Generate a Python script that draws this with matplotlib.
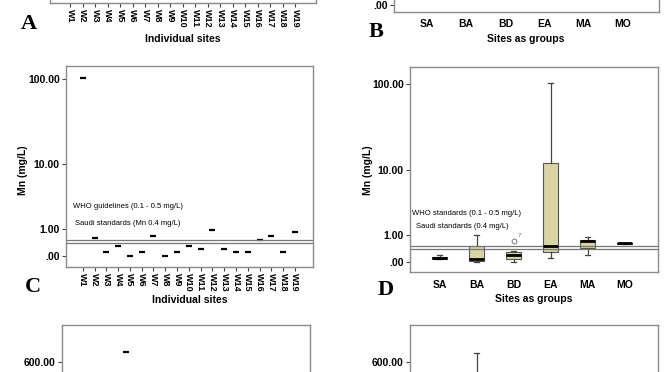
import numpy as np
import matplotlib
matplotlib.use("Agg")
import matplotlib.pyplot as plt

# ---------------- data ----------------
sites = ["W%d" % i for i in range(1, 20)]
groups = ["SA", "BA", "BD", "EA", "MA", "MO"]

# Panel C: Mn (mg/L) per individual site
mn_sites = [103, 0.61, 0.10, 0.31, 0.00, 0.10, 0.70, 0.00, 0.10, 0.31,
            0.20, 0.99, 0.20, 0.10, 0.10, 0.51, 0.70, 0.10, 0.89]

# Panel D: Mn (mg/L) box statistics per group
grp_whislo = [0.07, 0.00, 0.00, 0.10, 0.20, 0.61]
grp_q1     = [0.08, 0.03, 0.09, 0.28, 0.43, 0.61]
grp_med    = [0.11, 0.09, 0.20, 0.52, 0.71, 0.63]
grp_q3     = [0.13, 0.50, 0.31, 12.1, 0.78, 0.65]
grp_whishi = [0.19, 1.00, 0.33, 103, 0.91, 0.65]
bd_outlier = [0.71]
bd_outlier_label = "7"

who_upper = 0.5
saudi_mn = 0.4

# Panel E / F (only the top of these panels is visible)
e_sites = ["W5"]
e_values = [626]
f_whishi_ba = 624
f_q3_ba = 150
f_med_ba = 40
f_q1_ba = 10
f_whislo_ba = 0
ef_yticks = [600]

yticks_log = [0, 1, 10, 100]
yticklabels_log = [".00", "1.00", "10.00", "100.00"]

# ---------------- layout helpers ----------------
W, H = 672, 372
fig = plt.figure(figsize=(W / 100, H / 100), dpi=100)
fig.patch.set_facecolor("white")

SANS = "Liberation Sans"
SERIF = "Liberation Serif"
SPINE = "#8a8a8a"
BOXFILL = "#d9d4a2"


def rect(x0, y0, x1, y1):
    return [x0 / W, 1 - y1 / H, (x1 - x0) / W, (y1 - y0) / H]


def ftext(x, y, s, **kw):
    fig.text(x / W, 1 - y / H, s, **kw)


def fwd(v):
    return np.log10(np.clip(v, -0.999, None) + 1)


def inv(v):
    return 10 ** v - 1


def style(ax):
    for sp in ax.spines.values():
        sp.set_color(SPINE)
        sp.set_linewidth(1.0)
    ax.tick_params(length=3, width=0.8, color="#444444", pad=1.5)


def xticks_sites(ax, fs=6.5):
    ax.set_xticks(range(len(sites)))
    ax.set_xticklabels(sites, rotation=-90, fontsize=fs, fontweight="bold",
                       family=SANS, va="top", ha="center")


def xticks_groups(ax):
    ax.set_xticks(range(len(groups)))
    ax.set_xticklabels(groups, fontsize=7.5, fontweight="bold", family=SANS)
    ax.tick_params(axis="x", length=0, pad=6)


def yticks_fmt(ax, ticks=yticks_log, labels=yticklabels_log):
    ax.set_yscale("function", functions=(fwd, inv))
    ax.set_yticks(ticks)
    ax.set_yticklabels(labels, fontsize=7.5, fontweight="bold", family=SANS)
    ax.yaxis.set_minor_locator(matplotlib.ticker.NullLocator())


def boxes(ax, stats_list, positions):
    ax.bxp(stats_list, positions=positions, widths=0.4, patch_artist=True,
           showfliers=True, capwidths=0.15,
           boxprops=dict(facecolor=BOXFILL, edgecolor="#555555", linewidth=0.8),
           medianprops=dict(color="black", linewidth=2.0),
           whiskerprops=dict(color="#444444", linewidth=0.9),
           capprops=dict(color="#444444", linewidth=0.9),
           flierprops=dict(marker="o", markersize=3.5, markerfacecolor="none",
                           markeredgecolor="#777777", markeredgewidth=0.7))


# ---------------- Panel A (only bottom visible) ----------------
axA = fig.add_axes(rect(50, -220, 316, 3))
style(axA)
axA.set_xlim(-1.6, 19.68)
xticks_sites(axA)
axA.set_yticks([])
ftext(183, 39, "Individual sites", fontsize=7.5, fontweight="bold", family=SANS,
      ha="center", va="center")
ftext(29, 24, "A", fontsize=16, fontweight="bold", family=SERIF, ha="center", va="center")

# ---------------- Panel B (only bottom visible) ----------------
axB = fig.add_axes(rect(394, -240, 659, 12))
style(axB)
axB.set_xlim(-0.84, 5.92)
yticks_fmt(axB, [0], [".00"])
axB.set_ylim(-0.166, inv((252) / 88.8 - 0.079))
xticks_groups(axB)
axB.tick_params(axis="x", pad=5)
ftext(526, 39, "Sites as groups", fontsize=7.5, fontweight="bold", family=SANS,
      ha="center", va="center")
ftext(376, 32, "B", fontsize=16, fontweight="bold", family=SERIF, ha="center", va="center")

# ---------------- Panel C ----------------
axC = fig.add_axes(rect(66, 66, 313, 267))
style(axC)
axC.set_xlim(-1.42, 19.53)
yticks_fmt(axC)
axC.set_ylim(-0.25, 141)
axC.plot(range(len(sites)), mn_sites, linestyle="none", marker="_",
         markersize=4, markeredgewidth=1.6, color="black")
axC.axhline(who_upper, color="#777777", linewidth=0.9)
axC.axhline(saudi_mn, color="#777777", linewidth=0.9)
axC.text(0.028, 0.30, "WHO guidelines (0.1 - 0.5 mg/L)", transform=axC.transAxes,
         fontsize=5.5, family=SANS, va="center", ha="left")
axC.text(0.036, 0.214, "Saudi standards (Mn 0.4 mg/L)", transform=axC.transAxes,
         fontsize=5.5, family=SANS, va="center", ha="left")
xticks_sites(axC)
ftext(190, 300, "Individual sites", fontsize=7.5, fontweight="bold", family=SANS,
      ha="center", va="center")
ftext(23, 170, "Mn (mg/L)", fontsize=7.5, fontweight="bold", family=SANS,
      ha="center", va="center", rotation=90)
ftext(33, 287, "C", fontsize=16, fontweight="bold", family=SERIF, ha="center", va="center")

# ---------------- Panel D ----------------
axD = fig.add_axes(rect(410, 67, 658, 272))
style(axD)
axD.set_xlim(-0.8, 5.9)
yticks_fmt(axD)
axD.set_ylim(-0.229, 156)
stats = []
for i, g in enumerate(groups):
    stats.append(dict(label=g, whislo=grp_whislo[i], q1=grp_q1[i], med=grp_med[i],
                      q3=grp_q3[i], whishi=grp_whishi[i],
                      fliers=bd_outlier if g == "BD" else []))
boxes(axD, stats, list(range(len(groups))))
bd_idx = groups.index("BD")
axD.annotate(bd_outlier_label, (bd_idx, bd_outlier[0]), xytext=(3, 3),
             textcoords="offset points", fontsize=4.5, color="#666666", family=SANS)
axD.axhline(who_upper, color="#777777", linewidth=0.9)
axD.axhline(saudi_mn, color="#777777", linewidth=0.9)
axD.text(0.008, 0.283, "WHO standards (0.1 - 0.5 mg/L)", transform=axD.transAxes,
         fontsize=5.5, family=SANS, va="center", ha="left")
axD.text(0.024, 0.22, "Saudi standards (0.4 mg/L)", transform=axD.transAxes,
         fontsize=5.5, family=SANS, va="center", ha="left")
xticks_groups(axD)
ftext(534, 299, "Sites as groups", fontsize=7.5, fontweight="bold", family=SANS,
      ha="center", va="center")
ftext(368, 170, "Mn (mg/L)", fontsize=7.5, fontweight="bold", family=SANS,
      ha="center", va="center", rotation=90)
ftext(386, 290, "D", fontsize=16, fontweight="bold", family=SERIF, ha="center", va="center")

# ---------------- Panel E (only top visible) ----------------
axE = fig.add_axes(rect(62, 325, 310, 582))
style(axE)
axE.set_xlim(-1.42, 19.53)
axE.set_ylim(0, 700)
axE.set_yticks(ef_yticks)
axE.set_yticklabels(["%.2f" % v for v in ef_yticks], fontsize=7.5,
                    fontweight="bold", family=SANS)
axE.plot([sites.index(s) for s in e_sites], e_values, linestyle="none", marker="_",
         markersize=4, markeredgewidth=1.6, color="black")
axE.set_xticks([])

# ---------------- Panel F (only top visible) ----------------
axF = fig.add_axes(rect(410, 325, 658, 582))
style(axF)
axF.set_xlim(-0.8, 5.9)
axF.set_ylim(0, 700)
axF.set_yticks(ef_yticks)
axF.set_yticklabels(["%.2f" % v for v in ef_yticks], fontsize=7.5,
                    fontweight="bold", family=SANS)
boxes(axF, [dict(label="BA", whislo=f_whislo_ba, q1=f_q1_ba, med=f_med_ba,
                 q3=f_q3_ba, whishi=f_whishi_ba, fliers=[])], [groups.index("BA")])
axF.set_xticks([])

fig.savefig("out.png", dpi=100, facecolor="white")
